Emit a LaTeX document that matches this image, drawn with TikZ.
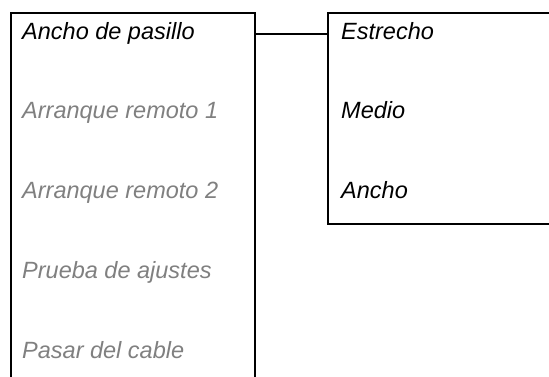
\documentclass[tikz,border=0pt]{standalone}
\usepackage{fontspec}
\setmainfont{Liberation Sans}
\definecolor{dimtext}{RGB}{128,128,128}
\begin{document}
\begin{tikzpicture}[x=1pt,y=-1pt,
  box/.style={draw=black,line width=2pt,fill=white,rectangle,inner sep=0pt,outer sep=0pt},
  item/.style={anchor=base west,inner sep=0pt,font=\fontsize{23.5}{28}\selectfont\itshape},
  active/.style={item,text=black},
  inactive/.style={item,text=dimtext},
  link/.style={draw=black,line width=1.3pt}]
\useasboundingbox (0,0) rectangle (549,376);
\clip (0,0) rectangle (549,376);
\node[box,minimum width=244pt,minimum height=387pt] (lbox) at (133,206.5) {};
\node[box,minimum width=242pt,minimum height=211pt] (rbox) at (449,118.5) {};
\draw[link] ([yshift=-21pt]lbox.north east) -- ([yshift=-21pt]rbox.north west);
\node[active] (t1) at (22,39) {Ancho de pasillo};
\node[inactive] (t2) at (22,118.5) {Arranque remoto 1};
\node[inactive] (t3) at (22,198) {Arranque remoto 2};
\node[inactive] (t4) at (22,278) {Prueba de ajustes};
\node[inactive] (t5) at (22,358) {Pasar del cable};
\node[active] (r1) at (341,39) {Estrecho};
\node[active] (r2) at (341,118.5) {Medio};
\node[active] (r3) at (341,198) {Ancho};
\end{tikzpicture}
\end{document}
